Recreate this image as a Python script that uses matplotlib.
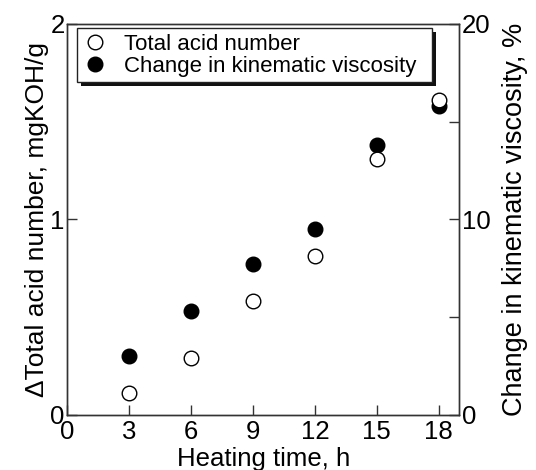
import matplotlib
matplotlib.use("Agg")
import matplotlib.pyplot as plt
from matplotlib.patches import Rectangle
from matplotlib.transforms import IdentityTransform

plt.rcParams['font.family'] = ['Liberation Sans', 'DejaVu Sans']

hours = [3, 6, 9, 12, 15, 18]
tan_values = [0.11, 0.29, 0.58, 0.81, 1.31, 1.61]
visc_values = [3.0, 5.3, 7.7, 9.5, 13.8, 15.8]
xticks = [0, 3, 6, 9, 12, 15, 18]
lticks = [0, 1, 2]
rticks = [0, 10, 20]
rminor = [5, 15]

fig = plt.figure(figsize=(5.36, 4.70), dpi=100)
ax1 = fig.add_axes([0.1256, 0.1177, 0.7313, 0.8313])
ax2 = ax1.twinx()
ax1.set_zorder(ax2.get_zorder() + 1)
ax1.patch.set_visible(False)

tick_fs = 18.5
ax2.plot(hours, visc_values, 'o', color='black', markersize=10.5, linestyle='none',
         label='Change in kinematic viscosity')
ax1.plot(hours, tan_values, 'o', markerfacecolor='white', markeredgecolor='black',
         markeredgewidth=1.0, markersize=10.5, linestyle='none', label='Total acid number')

ax1.set_xlim(0, 19)
ax1.set_ylim(0, 2)
ax2.set_ylim(0, 20)
ax1.set_xticks(xticks)
ax1.set_yticks(lticks)
ax2.set_yticks(rticks)
ax2.set_yticks(rminor, minor=True)

for ax in (ax1, ax2):
    for s in ax.spines.values():
        s.set_linewidth(1.0)
        s.set_color('#333333')
ax1.tick_params(axis='x', direction='in', length=7, width=1, labelsize=tick_fs, pad=4, color='#333333')
ax1.tick_params(axis='y', direction='in', length=7, width=1, labelsize=tick_fs, pad=2, color='#333333')
ax2.tick_params(axis='y', which='both', direction='in', length=7, width=1, labelsize=tick_fs, pad=2, color='#333333')

ax1.set_xlabel('Heating time, h', fontsize=18.5, labelpad=2)
ax1.set_ylabel('\u0394Total acid number, mgKOH/g', fontsize=19, labelpad=1)
ax2.set_ylabel('Change in kinematic viscosity, %', fontsize=19.5, labelpad=8)

h1, l1 = ax1.get_legend_handles_labels()
h2, l2 = ax2.get_legend_handles_labels()
leg = ax1.legend(h1 + h2, l1 + l2, loc='upper left',
                 bbox_to_anchor=(0.0255, 0.5, 0.904, 0.489), mode='expand',
                 borderaxespad=0, fontsize=16, frameon=True, fancybox=False,
                 edgecolor='#222222', framealpha=1, shadow=False,
                 handlelength=1.1, handletextpad=0.73, borderpad=0.25, labelspacing=0.05)
leg.get_frame().set_linewidth(1.0)
leg.set_zorder(6)

fig.canvas.draw()
bb = leg.get_window_extent()
shadow = Rectangle((bb.x0 + 4, bb.y0 - 4), bb.width, bb.height, transform=IdentityTransform(),
                   facecolor='#111111', edgecolor='none', zorder=5.5, clip_on=False)
ax1.add_artist(shadow)

fig.savefig('out.png', dpi=100)
